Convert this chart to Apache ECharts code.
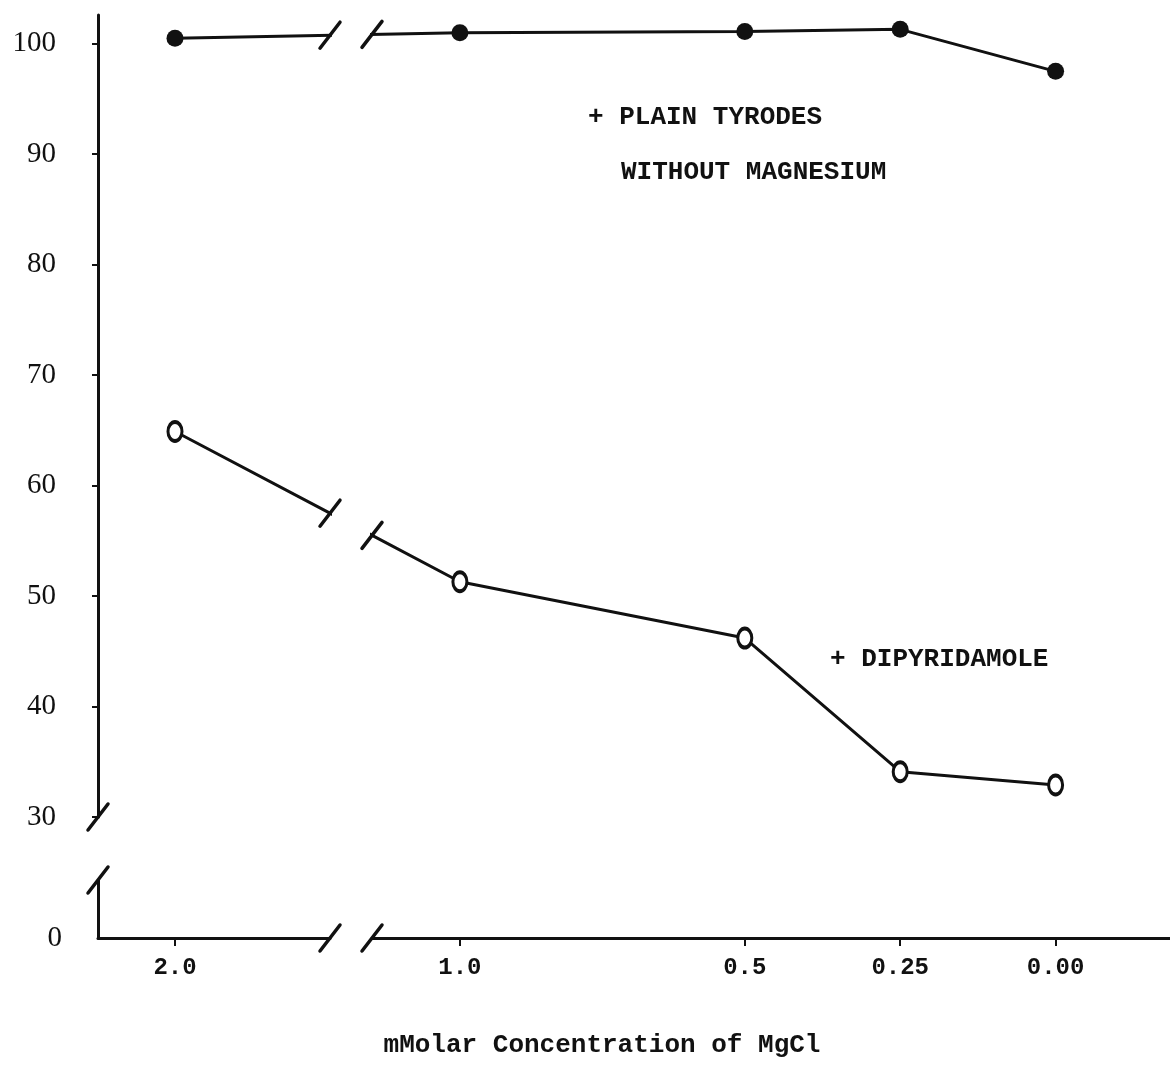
<!DOCTYPE html>
<html>
<head>
<meta charset="utf-8">
<title>Platelet response vs MgCl concentration</title>
<script src="https://cdn.jsdelivr.net/npm/echarts@6/dist/echarts.min.js"></script>
<style>
  html, body { margin: 0; padding: 0; background: #fff; }
  #chart { width: 1170px; height: 1072px; }
</style>
</head>
<body>
<div id="chart"></div>
<script>
// MgCl concentrations (mMolar) along the x axis, in plotted order
const concentrations = ['2.0', '1.0', '0.5', '0.25', '0.00'];
// the concentration axis is not linear: each value sits at its own step
const axisStep = [0, 11, 22, 28, 34];
// response, plain Tyrodes without magnesium (filled dots)
const plainTyrodes = [100.5, 101.0, 101.1, 101.3, 97.5];
// response, + dipyridamole (open circles)
const dipyridamole = [64.9, 51.3, 46.2, 34.1, 32.9];
// y tick labels on the upper part of the broken axis
const yTicks = [30, 40, 50, 60, 70, 80, 90, 100];
const yZero = [0];

const INK = '#111';
const MONO = '"Liberation Mono", "DejaVu Sans Mono", monospace';
const SERIF = '"Liberation Serif", "DejaVu Serif", serif';

// x ranges for the two pieces of the broken concentration axis
const xLeft = { min: -2.973, max: 5.985 };
const xRight = { min: 7.606, max: 38.417 };
const yUpper = { min: 30, max: 102.6 };

const chart = echarts.init(document.getElementById('chart'), null, { renderer: 'canvas' });

const grids = [
  { left: 98, width: 232, top: 15, height: 802 },   // upper left
  { left: 372, right: 0, top: 15, height: 802 },    // upper right
  { left: 98, width: 232, top: 880, height: 58 },   // lower stub left
  { left: 372, right: 0, top: 880, height: 58 }     // lower stub right
].map(g => Object.assign({ outerBoundsMode: 'none', containLabel: false, show: false }, g));

const hiddenX = (range, gridIndex) => ({
  type: 'value', gridIndex, min: range.min, max: range.max, show: false
});

const axisLine = { show: true, onZero: false, lineStyle: { color: INK, width: 3, cap: 'round' } };

const xLabelFmt = v => {
  const i = axisStep.indexOf(v);
  return i >= 0 ? concentrations[i] : '';
};

const shownX = (range, gridIndex, steps) => ({
  type: 'value', gridIndex, min: range.min, max: range.max,
  axisLine,
  splitLine: { show: false },
  axisTick: { show: true, customValues: steps, length: 8, lineStyle: { color: INK, width: 2 } },
  axisLabel: {
    customValues: steps, formatter: xLabelFmt, margin: 18,
    color: INK, fontFamily: MONO, fontSize: 24, fontWeight: 'bold'
  }
});

const xAxes = [
  hiddenX(xLeft, 0),
  hiddenX(xRight, 1),
  shownX(xLeft, 2, axisStep.filter(s => s >= xLeft.min && s <= xLeft.max)),
  shownX(xRight, 3, axisStep.filter(s => s >= xRight.min && s <= xRight.max))
];

const yAxes = [
  {
    type: 'value', gridIndex: 0, min: yUpper.min, max: yUpper.max,
    axisLine, splitLine: { show: false },
    axisTick: { show: true, customValues: yTicks, length: 6, lineStyle: { color: INK, width: 2 } },
    axisLabel: { customValues: yTicks, margin: 42, color: INK, fontFamily: SERIF, fontSize: 29 }
  },
  { type: 'value', gridIndex: 1, min: yUpper.min, max: yUpper.max, show: false },
  {
    type: 'value', gridIndex: 2, min: 0, max: 1,
    axisLine, splitLine: { show: false },
    axisTick: { show: false },
    axisLabel: { customValues: yZero, margin: 36, color: INK, fontFamily: SERIF, fontSize: 29 }
  },
  { type: 'value', gridIndex: 3, min: 0, max: 1, show: false }
];

function lineSeries(name, values, gridIndex, hollow) {
  return {
    name, type: 'line', xAxisIndex: gridIndex, yAxisIndex: gridIndex,
    data: values.map((v, i) => [axisStep[i], v]),
    clip: true, silent: true, z: 5,
    lineStyle: { color: INK, width: 3 },
    symbol: 'circle',
    symbolSize: hollow ? [14, 19] : 17,
    itemStyle: hollow
      ? { color: '#fff', borderColor: INK, borderWidth: 3.5 }
      : { color: INK, borderColor: INK, borderWidth: 0 }
  };
}

const series = [
  lineSeries('+ PLAIN TYRODES WITHOUT MAGNESIUM', plainTyrodes, 0, false),
  lineSeries('+ PLAIN TYRODES WITHOUT MAGNESIUM', plainTyrodes, 1, false),
  lineSeries('+ DIPYRIDAMOLE', dipyridamole, 0, true),
  lineSeries('+ DIPYRIDAMOLE', dipyridamole, 1, true)
];

const textEl = (text, x, y, size, align) => ({
  type: 'text', x, y, silent: true, z: 10,
  style: {
    text, fill: INK, font: 'bold ' + size + 'px ' + MONO,
    textAlign: align || 'left', textVerticalAlign: 'middle',
    align: align || 'left', verticalAlign: 'middle'
  }
});

const labels = [
  textEl('+ PLAIN TYRODES', 588, 117, 26),
  textEl('WITHOUT MAGNESIUM', 621, 172, 26),
  textEl('+ DIPYRIDAMOLE', 830, 659, 26),
  textEl('mMolar Concentration of MgCl', 602, 1045, 26, 'center')
];

chart.setOption({
  animation: false,
  backgroundColor: '#fff',
  grid: grids,
  xAxis: xAxes,
  yAxis: yAxes,
  series,
  graphic: labels
});

// break marks: short slashes where the axes and the lines are interrupted
function slash(p) {
  return {
    type: 'line', silent: true, z: 12,
    shape: { x1: p[0] - 10, y1: p[1] + 13, x2: p[0] + 10, y2: p[1] - 13 },
    style: { stroke: INK, lineWidth: 3.5, lineCap: 'round' }
  };
}

function valueAt(values, x) {
  // straight segment between the first two concentrations
  const x0 = axisStep[0], x1 = axisStep[1];
  const t = (x - x0) / (x1 - x0);
  return values[0] + (values[1] - values[0]) * t;
}

const marks = [];
[plainTyrodes, dipyridamole].forEach(vals => {
  marks.push(slash(chart.convertToPixel({ gridIndex: 0 }, [xLeft.max, valueAt(vals, xLeft.max)])));
  marks.push(slash(chart.convertToPixel({ gridIndex: 1 }, [xRight.min, valueAt(vals, xRight.min)])));
});
marks.push(slash(chart.convertToPixel({ gridIndex: 2 }, [xLeft.max, 0])));
marks.push(slash(chart.convertToPixel({ gridIndex: 3 }, [xRight.min, 0])));
marks.push(slash(chart.convertToPixel({ gridIndex: 0 }, [xLeft.min, yUpper.min])));
marks.push(slash(chart.convertToPixel({ gridIndex: 2 }, [xLeft.min, 1])));

chart.setOption({ graphic: labels.concat(marks) });
</script>
</body>
</html>
